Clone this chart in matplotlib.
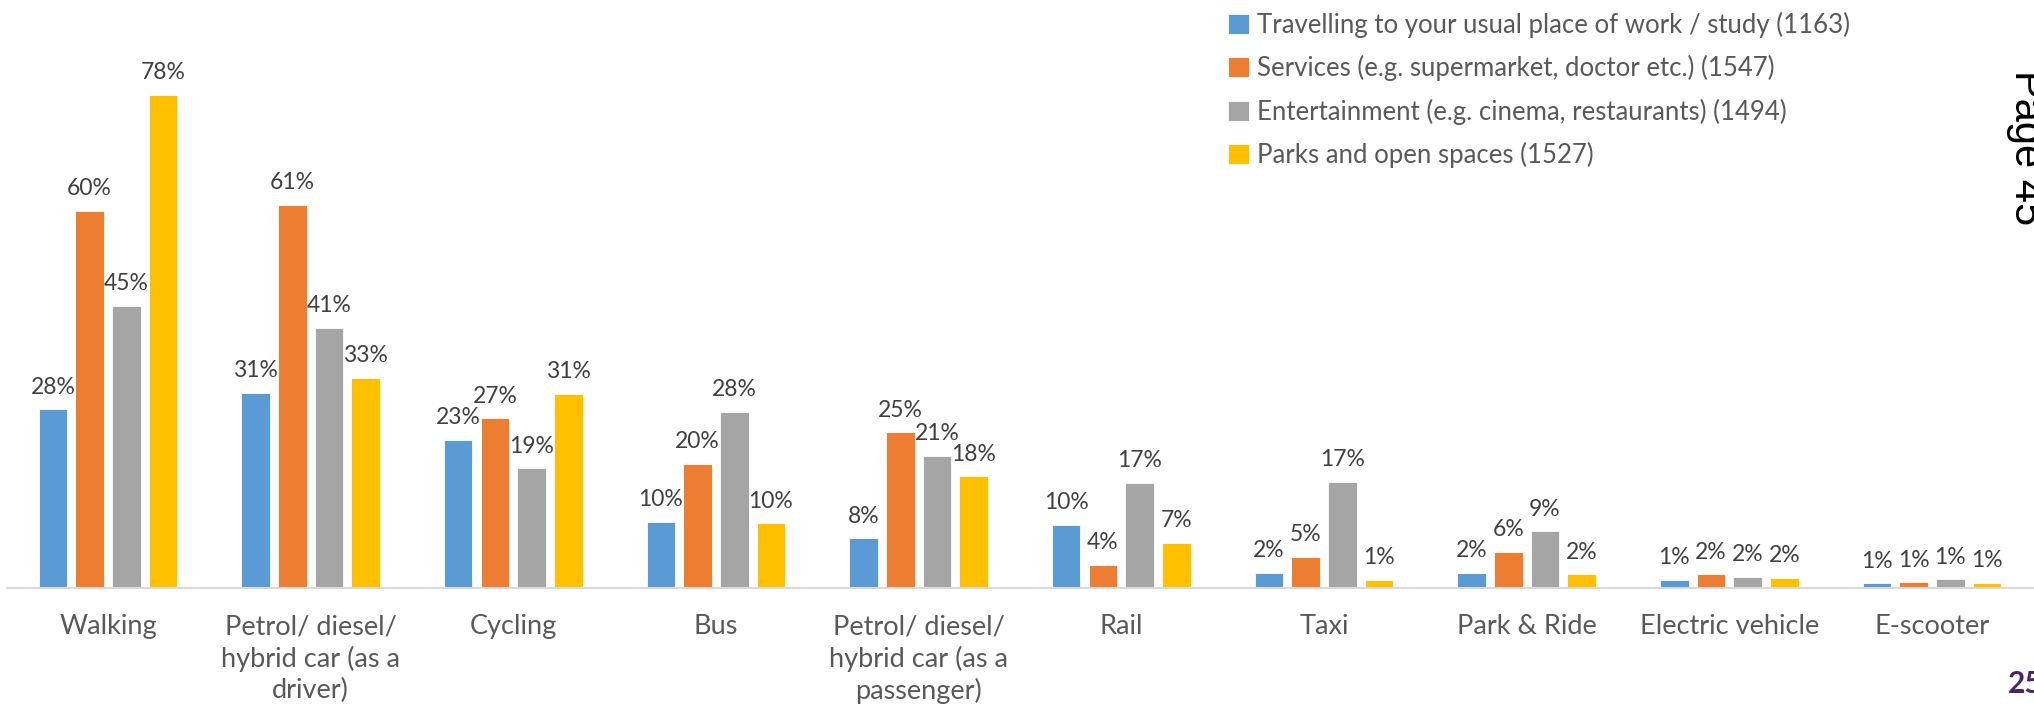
import numpy as np
import matplotlib.pyplot as plt

# categories and series (share of respondents, %)
categories = [
    "Walking",
    "Petrol/ diesel/\nhybrid car (as a\ndriver)",
    "Cycling",
    "Bus",
    "Petrol/ diesel/\nhybrid car (as a\npassenger)",
    "Rail",
    "Taxi",
    "Park & Ride",
    "Electric vehicle",
    "E-scooter",
]
series_names = [
    "Travelling to your usual place of work / study (1163)",
    "Services (e.g. supermarket, doctor etc.) (1547)",
    "Entertainment (e.g. cinema, restaurants) (1494)",
    "Parks and open spaces (1527)",
]
work_study = [28.2, 30.8, 23.4, 10.4, 7.8, 10.0, 2.3, 2.3, 1.2, 0.7]
services = [59.6, 60.6, 26.8, 19.6, 24.6, 3.6, 4.9, 5.7, 2.1, 0.85]
entertainment = [44.6, 41.1, 18.9, 27.8, 20.9, 16.6, 16.7, 8.9, 1.7, 1.3]
parks = [78.0, 33.2, 30.7, 10.2, 17.6, 7.1, 1.2, 2.1, 1.6, 0.75]

colors = ["#5B9BD5", "#ED7D31", "#A5A5A5", "#FFC000"]

plt.rcParams["font.family"] = ["Lato", "DejaVu Sans"]

W, H = 2034, 706
fig = plt.figure(figsize=(W / 100, H / 100), dpi=100)
ax = fig.add_axes([6.6 / W, 1 - 587.7 / H, 2026.7 / W, 587.7 / H])

x = np.arange(len(categories))
pitch = 0.181
width = 0.1405
all_series = [work_study, services, entertainment, parks]

handles = []
for i, (vals, col, name) in enumerate(zip(all_series, colors, series_names)):
    pos = x + (i - 1.5) * pitch
    bars = ax.bar(pos, vals, width, color=col, edgecolor="white",
                  linewidth=0.6, label=name)
    handles.append(bars)
    for xp, v in zip(pos, vals):
        ax.annotate(f"{round(v)}%", (xp, v), xytext=(0, 11.3),
                    textcoords="offset points", ha="center", va="baseline",
                    fontsize=16.5, color="#404040")

ax.set_xlim(-0.5, len(categories) - 0.5)
ax.set_ylim(0, 93)
ax.set_yticks([])
ax.set_xticks(x)
ax.set_xticklabels(categories, fontsize=19.5, color="#595959",
                   linespacing=1.3)
ax.tick_params(axis="x", length=0, pad=19)
for s in ["top", "right", "left"]:
    ax.spines[s].set_visible(False)
ax.spines["bottom"].set_color("#D9D9D9")
ax.spines["bottom"].set_linewidth(1.5)
ax.patch.set_alpha(0)

leg = fig.legend(handles=handles, loc="upper left",
                 bbox_to_anchor=(1228.3 / W, 1 - 11.5 / H),
                 bbox_transform=fig.transFigure, frameon=False,
                 fontsize=18.5, handlelength=0.82, handleheight=0.82,
                 handletextpad=0.3, labelspacing=0.68,
                 borderpad=0, borderaxespad=0)
for t in leg.get_texts():
    t.set_color("#595959")

fig.text(2006 / W, 1 - 70 / H, "Page 45", rotation=270, ha="left",
         va="top", fontsize=30, family="Liberation Sans", color="black")
fig.text(2008 / W, 1 - 693 / H, "25", ha="left", va="baseline",
         fontsize=21.5, fontweight="bold", color="#4F2170")

fig.savefig("out.png", dpi=100)
